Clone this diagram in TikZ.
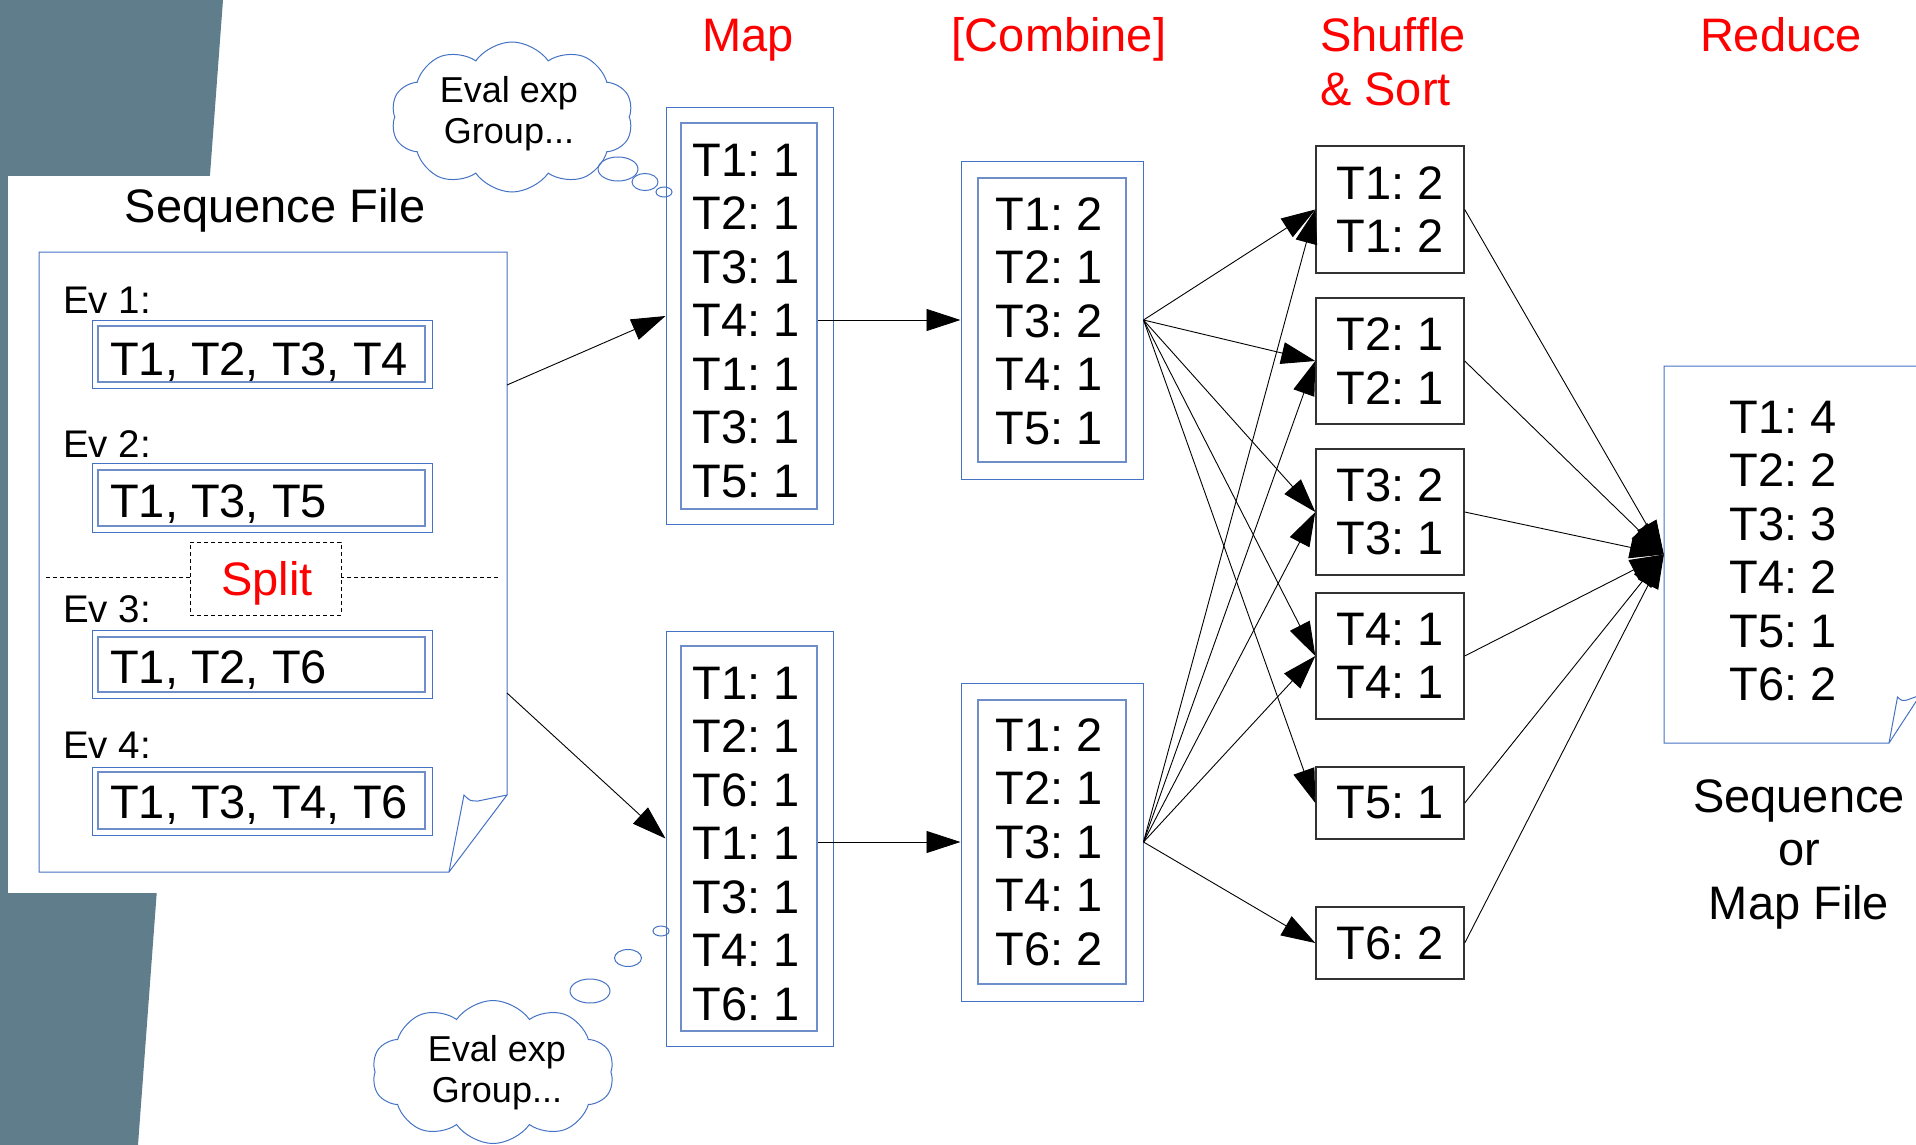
\documentclass[tikz,border=0pt]{standalone}
\usepackage{fontspec}
\setmainfont{Liberation Sans}
\usetikzlibrary{arrows.meta,shapes.symbols,shapes.geometric}
\definecolor{bgslate}{RGB}{96,125,139}
\definecolor{blueO}{RGB}{68,114,196}
\definecolor{blueI}{RGB}{110,142,202}
\definecolor{shufline}{RGB}{50,50,50}
\definecolor{hdrred}{RGB}{255,0,0}
\frenchspacing
\begin{document}
\frenchspacing
\begin{tikzpicture}[x=1pt,y=-1pt,
  bigfont/.style={font=\fontsize{47}{53.5}\selectfont\frenchspacing, inner sep=0pt},
  bigtxt/.style={bigfont, align=center},
  evtxt/.style={font=\fontsize{38.5}{46}\selectfont\frenchspacing, inner sep=0pt},
  cloudtxt/.style={font=\fontsize{36}{41}\selectfont, inner sep=0pt, align=center},
  hdr/.style={bigfont, text=hdrred},
  boxout/.style={draw=blueO, line width=1pt, inner sep=0pt},
  boxin/.style={draw=blueI, line width=1.2pt, inner sep=0pt},
  shufbox/.style={draw=shufline, line width=1.4pt, minimum width=148pt, bigtxt},
  docline/.style={draw=blueO, line width=1pt},
  conn/.style={draw=black, line width=0.9pt, -{Triangle[length=34pt,width=22pt]}},
  bubble/.style={ellipse, draw=blueO, line width=1pt, inner sep=0pt},
  thought/.style={cloud, draw=blueO, line width=1pt, cloud puffs=10, cloud puff arc=110, aspect=1.6, inner sep=0pt},
  splitline/.style={draw=black, line width=0.9pt, dash pattern=on 4pt off 3pt}
]
\useasboundingbox (0,0) rectangle (1916,1145);
% background
\fill[bgslate] (0,0) -- (223,0) -- (138,1145) -- (0,1145) -- cycle;
\fill[white] (8,176) rectangle (560,893);

% headers
\node[hdr, anchor=base] (hmap) at (748,52) {Map};
\node[hdr, anchor=base] (hcomb) at (1059,52) {[Combine]};
\node[hdr, align=left, anchor=north west] (hshuf) at (1320,17.7) {Shuffle\\\& Sort};
\node[hdr, anchor=base] (hred) at (1781,52) {Reduce};

% sequence file document
\node[bigfont, anchor=base] (seqtitle) at (275,222) {Sequence File};
\node[minimum width=468pt, minimum height=620pt, inner sep=0pt] (seqdoc) at (273,562) {};
\draw[docline] (39,252) -- (507,252) -- (507,795) -- (449,872) -- (39,872) -- cycle;
\draw[docline] (449,872) -- (464,795) .. controls (470,801) .. (478,801) -- (507,795);
\coordinate (sdA) at (507,385);
\coordinate (sdB) at (507,693);

% events
\node[evtxt, anchor=base west] (ev1) at (63,313) {Ev 1:};
\node[evtxt, anchor=base west] (ev2) at (63,457) {Ev 2:};
\node[evtxt, anchor=base west] (ev3) at (63,622) {Ev 3:};
\node[evtxt, anchor=base west] (ev4) at (63,758) {Ev 4:};

\node[boxout, minimum width=340pt, minimum height=68pt] (ev1o) at (262,354) {};
\node[boxin, minimum width=327pt, minimum height=56pt] (ev1i) at (261.5,354) {};
\node[boxout, minimum width=340pt, minimum height=69pt] (ev2o) at (262,497.5) {};
\node[boxin, minimum width=327pt, minimum height=56pt] (ev2i) at (261.5,498) {};
\node[boxout, minimum width=340pt, minimum height=68pt] (ev3o) at (262,664) {};
\node[boxin, minimum width=327pt, minimum height=55pt] (ev3i) at (261.5,664.5) {};
\node[boxout, minimum width=340pt, minimum height=68pt] (ev4o) at (262,801) {};
\node[boxin, minimum width=327pt, minimum height=57pt] (ev4i) at (261.5,800.5) {};

\node[bigfont, anchor=base west] (ev1t) at (110,375) {T1, T2, T3, T4};
\node[bigfont, anchor=base west] (ev2t) at (110,517) {T1, T3, T5};
\node[bigfont, anchor=base west] (ev3t) at (110,683) {T1, T2, T6};
\node[bigfont, anchor=base west] (ev4t) at (110,818) {T1, T3, T4, T6};

% split
\draw[splitline] (46,577) -- (500,577);
\node[splitline, fill=white, minimum width=151pt, minimum height=73pt, inner sep=0pt] (splitbox) at (265.5,578.5) {};
\node[bigfont, text=hdrred] (splitt) at (267,583) {Split};

% thought clouds
\node[thought, minimum width=242pt, minimum height=150pt] (cloudA) at (512,117) {};
\node[cloudtxt] (cloudAt) at (509,113.2) {Eval exp\\Group...};
\node[bubble, minimum width=40pt, minimum height=24pt] (bA1) at (618,169) {};
\node[bubble, minimum width=26pt, minimum height=17pt] (bA2) at (645,182) {};
\node[bubble, minimum width=16pt, minimum height=10pt] (bA3) at (664,192) {};

\node[thought, minimum width=242pt, minimum height=143pt] (cloudB) at (493,1072) {};
\node[cloudtxt] (cloudBt) at (497,1072.2) {Eval exp\\Group...};
\node[bubble, minimum width=40pt, minimum height=24pt] (bB1) at (590,991) {};
\node[bubble, minimum width=27pt, minimum height=17pt] (bB2) at (628,958) {};
\node[bubble, minimum width=16pt, minimum height=10pt] (bB3) at (661,931) {};

% map boxes
\node[boxout, minimum width=167pt, minimum height=416pt] (map1o) at (749.5,316) {};
\node[boxin, minimum width=136pt, minimum height=386pt] (map1i) at (749,316) {};
\node[bigtxt] (map1t) at (746.5,320.8) {T1: 1\\T2: 1\\T3: 1\\T4: 1\\T1: 1\\T3: 1\\T5: 1};
\node[boxout, minimum width=167pt, minimum height=415pt] (map2o) at (749.5,838.5) {};
\node[boxin, minimum width=136pt, minimum height=385pt] (map2i) at (749,838.5) {};
\node[bigtxt] (map2t) at (746.5,843.8) {T1: 1\\T2: 1\\T6: 1\\T1: 1\\T3: 1\\T4: 1\\T6: 1};

% combine boxes
\node[boxout, minimum width=182pt, minimum height=318pt] (comb1o) at (1052,320) {};
\node[boxin, minimum width=148pt, minimum height=284pt] (comb1i) at (1052,320) {};
\node[bigtxt] (comb1t) at (1049.5,321.3) {T1: 2\\T2: 1\\T3: 2\\T4: 1\\T5: 1};
\node[boxout, minimum width=182pt, minimum height=318pt] (comb2o) at (1052,842) {};
\node[boxin, minimum width=148pt, minimum height=284pt] (comb2i) at (1052,842) {};
\node[bigtxt] (comb2t) at (1049.5,842.3) {T1: 2\\T2: 1\\T3: 1\\T4: 1\\T6: 2};

% shuffle boxes
\node[shufbox, minimum height=127pt] (s1) at (1390,209.5) {T1: 2\\T1: 2};
\node[shufbox, minimum height=126pt] (s2) at (1390,361) {T2: 1\\T2: 1};
\node[shufbox, minimum height=126pt] (s3) at (1390,512) {T3: 2\\T3: 1};
\node[shufbox, minimum height=126pt] (s4) at (1390,656) {T4: 1\\T4: 1};
\node[shufbox, minimum height=72pt] (s5) at (1390,803) {T5: 1};
\node[shufbox, minimum height=72pt] (s6) at (1390,943) {T6: 2};

% reduce document
\node[minimum width=254pt, minimum height=377pt, inner sep=0pt] (redoc) at (1791,554.5) {};
\draw[docline] (1920,366) -- (1664,366) -- (1664,743) -- (1889,743) -- (1918,698.5);
\draw[docline] (1889,743) -- (1897.5,697) .. controls (1902,701) .. (1907,700) -- (1918,696);
\node[bigtxt] (redt) at (1783,551) {T1: 4\\T2: 2\\T3: 3\\T4: 2\\T5: 1\\T6: 2};
\node[bigtxt] (redcap) at (1799,854.3) {Sequence\\or\\Map File};

% connectors
\draw[conn] (sdA) -- (map1o.west);
\draw[conn] (sdB) -- (map2o.west);
\draw[conn] (map1i.east |- comb1o.west) -- (comb1o.west);
\draw[conn] (map2i.east |- comb2o.west) -- (comb2o.west);
\foreach \t in {s1,s2,s3,s4,s5} \draw[conn] (comb1o.east) -- (\t.west);
\foreach \t in {s1,s2,s3,s4,s6} \draw[conn] (comb2o.east) -- (\t.west);
\foreach \t in {s1,s2,s3,s4,s5,s6} \draw[conn] (\t.east) -- (redoc.west);
\end{tikzpicture}
\end{document}
